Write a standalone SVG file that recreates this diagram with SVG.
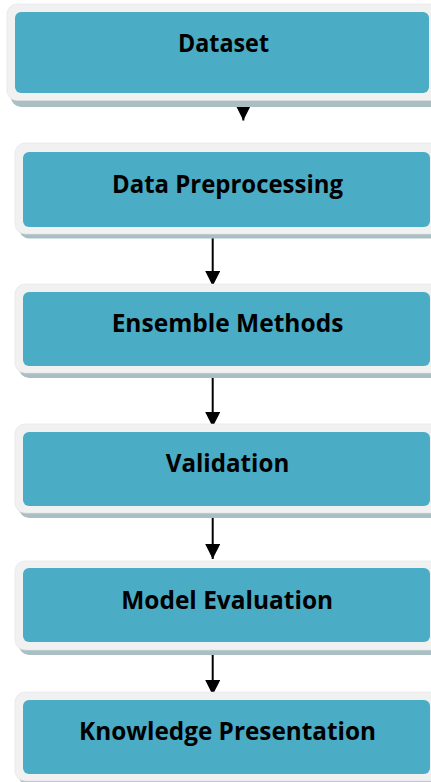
<svg xmlns="http://www.w3.org/2000/svg" width="431" height="782" viewBox="0 0 431 782">
  <style>
    .shadow { fill: #a9bfc4; }
    .frame { fill: #f1f1f1; stroke: #e2e2e2; stroke-width: 0.6; }
    .face { fill: #4bacc6; }
    .label { font-family: "Open Sans", "Noto Sans", "Liberation Sans", sans-serif; font-weight: bold; font-size: 25px; fill: #000; text-anchor: middle; }
    .conn { stroke: #000; stroke-width: 2; fill: none; }
  </style>
  <defs>
    <marker id="arrow" markerUnits="userSpaceOnUse" markerWidth="16" markerHeight="16" refX="15" refY="7.5" orient="auto">
      <path d="M0,0 L15,7.5 L0,15 Z" fill="#000"/>
    </marker>
  </defs>

  <rect width="431" height="782" fill="#fff"/>

  <!-- connectors -->
  <g id="connectors">
    <line class="conn" x1="243.3" y1="101" x2="243.3" y2="120.5" marker-end="url(#arrow)"/>
    <line class="conn" x1="212.7" y1="236" x2="212.7" y2="286" marker-end="url(#arrow)"/>
    <line class="conn" x1="212.7" y1="377" x2="212.7" y2="427" marker-end="url(#arrow)"/>
    <line class="conn" x1="212.7" y1="508" x2="212.7" y2="559" marker-end="url(#arrow)"/>
    <line class="conn" x1="212.7" y1="645" x2="212.7" y2="695" marker-end="url(#arrow)"/>
  </g>

  <g id="dataset">
    <rect class="shadow" x="11" y="10" width="430" height="97" rx="10"/>
    <rect class="frame" x="7" y="4" width="434" height="96.5" rx="10"/>
    <rect class="face" x="15" y="12" width="414" height="81" rx="6"/>
    <text class="label" x="223.5" y="52" textLength="91" lengthAdjust="spacingAndGlyphs">Dataset</text>
  </g>

  <g id="data-preprocessing">
    <rect class="shadow" x="19" y="148" width="430" height="90.5" rx="10"/>
    <rect class="frame" x="15" y="143" width="434" height="91" rx="10"/>
    <rect class="face" x="23" y="152" width="407" height="75" rx="6"/>
    <text class="label" x="227.5" y="192.5" textLength="231" lengthAdjust="spacingAndGlyphs">Data Preprocessing</text>
  </g>

  <g id="ensemble-methods">
    <rect class="shadow" x="19" y="289" width="430" height="89" rx="10"/>
    <rect class="frame" x="15" y="284" width="434" height="89" rx="10"/>
    <rect class="face" x="23" y="292" width="407" height="74" rx="6"/>
    <text class="label" x="227.5" y="332" textLength="231.7" lengthAdjust="spacingAndGlyphs">Ensemble Methods</text>
  </g>

  <g id="validation">
    <rect class="shadow" x="19" y="429" width="430" height="89" rx="10"/>
    <rect class="frame" x="15" y="424" width="434" height="89" rx="10"/>
    <rect class="face" x="23" y="432" width="407" height="74" rx="6"/>
    <text class="label" x="227.5" y="472" textLength="123.6" lengthAdjust="spacingAndGlyphs">Validation</text>
  </g>

  <g id="model-evaluation">
    <rect class="shadow" x="19" y="566" width="430" height="89" rx="10"/>
    <rect class="frame" x="15" y="561" width="434" height="89" rx="10"/>
    <rect class="face" x="23" y="568" width="407" height="74" rx="6"/>
    <text class="label" x="227.2" y="608.5" textLength="212" lengthAdjust="spacingAndGlyphs">Model Evaluation</text>
  </g>

  <g id="knowledge-presentation">
    <rect class="shadow" x="19" y="697" width="430" height="89" rx="10"/>
    <rect class="frame" x="15" y="692" width="434" height="89" rx="10"/>
    <rect class="face" x="23" y="700" width="407" height="74" rx="6"/>
    <text class="label" x="227.5" y="739.5" textLength="297" lengthAdjust="spacingAndGlyphs">Knowledge Presentation</text>
  </g>
</svg>
